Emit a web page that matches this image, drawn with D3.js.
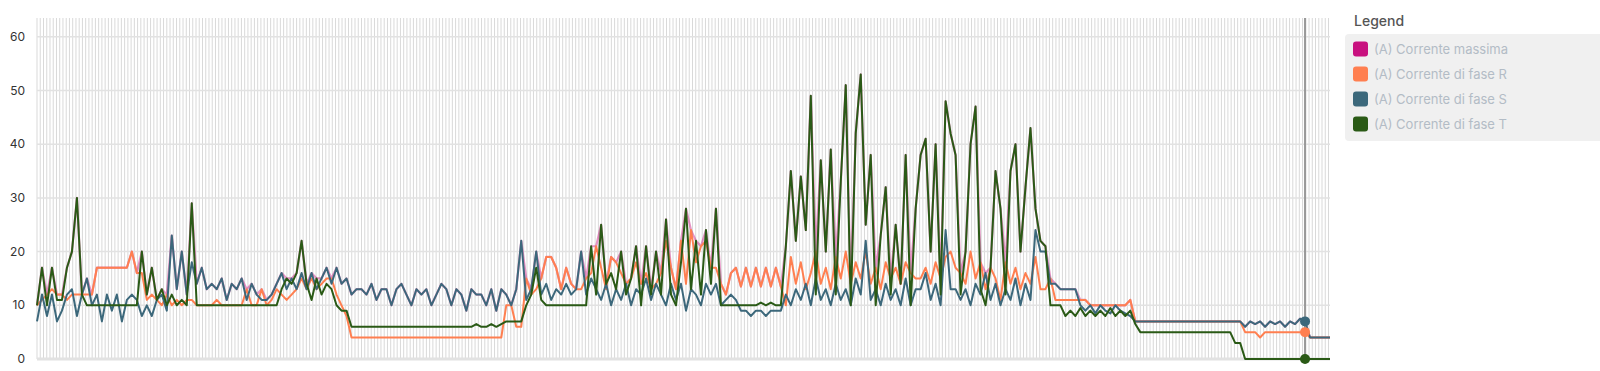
<!DOCTYPE html>
<html>
<head>
<meta charset="utf-8">
<script src="https://cdn.jsdelivr.net/npm/d3@7"></script>
<style>
  body { margin: 0; background: #fff; font-family: Inter, "Open Sans", sans-serif; }
</style>
</head>
<body>
<div id="chart"></div>
<script>
(function () {
  // readings, one sample every ~5px of the original chart
  const faseR = [
    10, 11, 12, 13, 12, 12, 11, 12, 12, 12,
    12, 12, 17, 17, 17, 17, 17, 17, 17, 20,
    16, 16, 11, 12, 11, 10, 12, 10, 11, 10,
    11, 11, 10, 10, 10, 10, 11, 10, 10, 10,
    10, 10, 13, 10, 10, 13, 10, 11, 13, 12,
    11, 12, 13, 15, 13, 15, 13, 14, 15, 15,
    12, 10, 8, 4, 4, 4, 4, 4, 4, 4,
    4, 4, 4, 4, 4, 4, 4, 4, 4, 4,
    4, 4, 4, 4, 4, 4, 4, 4, 4, 4,
    4, 4, 4, 4, 10, 10, 6, 6, 15, 12,
    13, 15, 19, 19, 17, 13, 17, 14, 13, 13,
    15, 16, 21, 17, 13, 19, 18, 16, 14, 15,
    18, 14, 16, 13, 14, 16, 22, 17, 13, 22,
    14, 24, 18, 21, 22, 17, 17, 14, 12, 16,
    17, 13.5, 17, 13.5, 17, 13.5, 17, 13.5, 17, 13.5,
    10, 19, 14, 18, 13, 16, 20, 14, 17, 13,
    19, 15, 20, 14, 18, 15, 20, 14, 17, 13,
    18, 15, 17, 14, 18, 16, 15, 15, 17, 14,
    18, 15, 19, 20, 17, 16, 14, 20, 15, 18,
    13, 17, 15, 11, 18, 14, 17, 13, 16, 14,
    19, 13, 13, 15, 11, 11, 11, 11, 11, 11,
    11, 10, 10, 10, 10, 10, 10, 10, 10, 11,
    7, 7, 7, 7, 7, 7, 7, 7, 7, 7,
    7, 7, 7, 7, 7, 7, 7, 7, 7, 7,
    7, 7, 5, 5, 5, 4, 5, 5, 5, 5,
    5, 5, 5, 5, 5, 4, 4, 4, 4, 4
  ];

  const faseS = [
    7, 12, 8, 12, 7, 9, 12, 13, 8, 12,
    15, 10, 12, 7, 12, 9, 12, 7, 11, 12,
    11, 8, 10, 8, 11, 12, 9, 23, 13, 20,
    12, 18, 14, 17, 13, 14, 13, 15, 11, 14,
    13, 15, 11, 14, 12, 11, 11, 12, 14, 16,
    13, 15, 13, 16, 13, 16, 13, 15, 17, 14,
    17, 14, 15, 12, 13, 13, 12, 14, 11, 13,
    13, 10, 13, 14, 12, 10, 13, 12, 13, 10,
    12, 14, 13, 10, 13, 12, 9, 13, 12, 12,
    10, 13, 9, 13, 12, 10, 13, 22, 11, 13,
    20, 12, 14, 11, 13, 12, 14, 12, 13, 20,
    12, 15, 13, 11, 14, 10, 13, 11, 14, 10,
    13, 12, 15, 11, 14, 12, 10, 14, 11, 14,
    9, 13, 12, 10, 14, 12, 14, 10, 11, 12,
    11, 9, 9, 8, 9, 9, 8, 9, 9, 9,
    12, 10, 13, 11, 14, 10, 15, 11, 13, 10,
    14, 11, 13, 10, 15, 12, 22, 11, 13, 10,
    14, 11, 13, 10, 15, 10, 13, 13, 16, 11,
    14, 10, 24, 13, 13, 11, 13, 10, 14, 12,
    16, 11, 14, 10, 13, 11, 15, 10, 14, 11,
    24, 20, 20, 14, 14, 13, 13, 13, 13, 10,
    9, 10, 8.5, 10, 9, 8.5, 10, 9, 8.5, 8,
    7, 7, 7, 7, 7, 7, 7, 7, 7, 7,
    7, 7, 7, 7, 7, 7, 7, 7, 7, 7,
    7, 7, 6, 7, 6.5, 7, 6, 7, 6.5, 7,
    6, 7, 6.5, 7.5, 7, 4, 4, 4, 4, 4
  ];

  const faseT = [
    10, 17, 10, 17, 11, 11, 17, 20, 30, 12,
    10, 10, 10, 10, 10, 10, 10, 10, 10, 10,
    10, 20, 12, 17, 11, 13, 10, 12, 10, 11,
    10, 29, 10, 10, 10, 10, 10, 10, 10, 10,
    10, 10, 10, 10, 10, 10, 10, 10, 10, 13,
    15, 14, 16, 22, 14, 11, 15, 12, 14, 13,
    10, 9, 9, 6, 6, 6, 6, 6, 6, 6,
    6, 6, 6, 6, 6, 6, 6, 6, 6, 6,
    6, 6, 6, 6, 6, 6, 6, 6, 6.5, 6,
    6, 6.5, 6, 6.5, 7, 7, 7, 7, 10, 12,
    17, 11, 10, 10, 10, 10, 10, 10, 10, 10,
    10, 21, 12, 25, 14, 16, 13, 20, 12, 15,
    21, 10, 21, 12, 20, 12, 26, 12, 10, 18,
    28, 13, 22, 12, 24, 14, 28, 10, 10, 10,
    10, 10, 10, 10, 10, 10.5, 10, 10.5, 10, 10,
    21, 35, 22, 34, 24, 49, 12, 37, 20, 39,
    12, 33, 51, 10, 42, 53, 25, 38, 10, 23,
    32, 12, 25, 14, 38, 10, 28, 38, 41, 20,
    40, 12, 48, 42, 38, 12, 20, 40, 47, 13,
    10, 17, 35, 28, 12, 35, 40, 20, 32, 43,
    28, 22, 21, 10, 10, 10, 8, 9, 8, 9.5,
    8, 9, 8, 9, 8, 9.5, 8, 9, 8, 9,
    6.5, 5, 5, 5, 5, 5, 5, 5, 5, 5,
    5, 5, 5, 5, 5, 5, 5, 5, 5, 5,
    3, 3, 0, 0, 0, 0, 0, 0, 0, 0,
    0, 0, 0, 0, 0, 0, 0, 0, 0, 0
  ];

  // max current is the highest of the three phases at each reading
  const correnteMassima = faseR.map((r, i) => Math.max(r, faseS[i], faseT[i]));

  const yTicks = [0, 10, 20, 30, 40, 50, 60];
  const hoverIndex = 254;

  const seriesNames = [
    "(A) Corrente massima",
    "(A) Corrente di fase R",
    "(A) Corrente di fase S",
    "(A) Corrente di fase T"
  ];
  const seriesColors = ["#c8117f", "#ff7f50", "#3c687b", "#2a5a16"];

  const W = 1600, H = 371;
  const left = 37, right = 1330, top = 18, bottom = 359;

  const svg = d3
    .select("#chart")
    .append("svg")
    .attr("width", W)
    .attr("height", H);

  const x = d3.scaleLinear().domain([0, faseR.length - 1]).range([left, right]);
  const y = d3.scaleLinear().domain([0, 63.5]).range([bottom, top]);

  // dense vertical grid
  const gridX = d3.range(0, faseR.length - 1 + 0.01, 0.65);
  svg
    .append("g")
    .selectAll("line")
    .data(gridX)
    .join("line")
    .attr("x1", (d) => x(d))
    .attr("x2", (d) => x(d))
    .attr("y1", top)
    .attr("y2", bottom)
    .attr("stroke", "#d9d9d9")
    .attr("stroke-width", 1);

  // horizontal grid + labels
  const yAxis = svg.append("g");
  yAxis
    .selectAll("line")
    .data(yTicks)
    .join("line")
    .attr("x1", left)
    .attr("x2", right)
    .attr("y1", (d) => y(d))
    .attr("y2", (d) => y(d))
    .attr("stroke", "#e2e2e2")
    .attr("stroke-width", (d) => (d === 0 ? 3 : 1.5));

  yAxis
    .selectAll("text")
    .data(yTicks)
    .join("text")
    .attr("x", 25)
    .attr("y", (d) => y(d))
    .attr("dy", "0.35em")
    .attr("text-anchor", "end")
    .attr("font-size", 12)
    .attr("fill", "#333")
    .text((d) => d);

  const line = d3
    .line()
    .x((d, i) => x(i))
    .y((d) => y(d));

  const allSeries = [correnteMassima, faseR, faseS, faseT];
  allSeries.forEach((values, k) => {
    svg
      .append("path")
      .datum(values)
      .attr("fill", "none")
      .attr("stroke", seriesColors[k])
      .attr("stroke-width", k === 0 ? 2.2 : 2)
      .attr("stroke-opacity", k === 0 ? 0.45 : 1)
      .attr("stroke-linejoin", "round")
      .attr("d", line);
  });

  // hover marker
  svg
    .append("line")
    .attr("x1", x(hoverIndex))
    .attr("x2", x(hoverIndex))
    .attr("y1", top)
    .attr("y2", bottom)
    .attr("stroke", "#999")
    .attr("stroke-width", 2);

  [faseR, faseS, faseT].forEach((values, k) => {
    svg
      .append("circle")
      .attr("cx", x(hoverIndex))
      .attr("cy", y(values[hoverIndex]))
      .attr("r", 5)
      .attr("fill", seriesColors[k + 1]);
  });

  // legend
  const legend = svg.append("g");
  legend
    .append("text")
    .attr("x", 1354)
    .attr("y", 26)
    .attr("font-size", 14)
    .attr("font-weight", 500)
    .attr("fill", "#555")
    .text("Legend");

  legend
    .append("rect")
    .attr("x", 1345)
    .attr("y", 34)
    .attr("width", 262)
    .attr("height", 107)
    .attr("rx", 4)
    .attr("fill", "#f0f0f0");

  const items = legend
    .selectAll("g.item")
    .data(seriesNames)
    .join("g")
    .attr("class", "item")
    .attr("transform", (d, i) => `translate(1353, ${49 + i * 25})`);

  items
    .append("rect")
    .attr("x", 0)
    .attr("y", -7.5)
    .attr("width", 15)
    .attr("height", 15)
    .attr("rx", 3)
    .attr("fill", (d, i) => seriesColors[i]);

  items
    .append("text")
    .attr("x", 21)
    .attr("y", 0)
    .attr("dy", "0.35em")
    .attr("font-size", 13)
    .attr("fill", "#b3bcc6")
    .text((d) => d);
})();
</script>
</body>
</html>
